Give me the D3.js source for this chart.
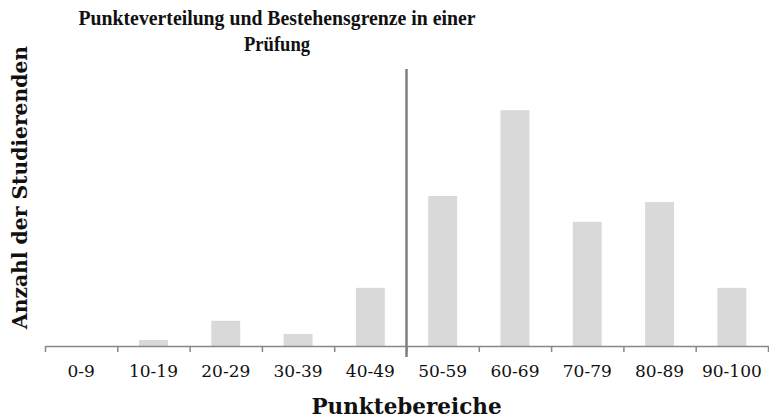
<!DOCTYPE html>
<html>
<head>
<meta charset="utf-8">
<script src="https://cdn.jsdelivr.net/npm/d3@7/dist/d3.min.js"></script>
<style>
  html, body { margin: 0; padding: 0; background: #fff; }
  svg { display: block; }
</style>
</head>
<body>
<svg id="chart" width="769" height="419"></svg>
<script>
const categories = ["0-9", "10-19", "20-29", "30-39", "40-49", "50-59", "60-69", "70-79", "80-89", "90-100"];
const counts = [0, 1, 4.2, 2, 9.7, 25, 39.3, 20.7, 24, 9.7];
const passBoundary = 5; // boundary index between 40-49 and 50-59
const titleLines = ["Punkteverteilung und Bestehensgrenze in einer", "Prüfung"];
const xTitle = "Punktebereiche";
const yTitle = "Anzahl der Studierenden";

(function () {
const svg = d3.select("#chart");
const mLeft = 45, mRight = 768, mBottom = 346, mTop = 106;

const x = d3.scaleBand().domain(categories).range([mLeft, mRight]).paddingInner(0).paddingOuter(0);
const xb = d3.scaleLinear().domain([0, categories.length]).range([mLeft, mRight]);
const y = d3.scaleLinear().domain([0, 40]).range([mBottom, mTop]);

const barW = x.bandwidth() * 0.4;

// bars
svg.append("g").selectAll("rect")
  .data(categories.map((c, i) => ({c, v: counts[i]})))
  .join("rect")
  .attr("x", d => x(d.c) + (x.bandwidth() - barW) / 2)
  .attr("width", barW)
  .attr("y", d => y(d.v))
  .attr("height", d => y(0) - y(d.v))
  .attr("fill", "#d9d9d9");

// axis with ticks between categories
const gAxis = svg.append("g").attr("transform", `translate(0,${mBottom})`)
  .call(d3.axisBottom(xb).ticks(categories.length).tickFormat("").tickSize(6).tickSizeOuter(0));
gAxis.select(".domain").attr("stroke", "#888").attr("stroke-width", 1.5);
gAxis.selectAll(".tick line").attr("stroke", "#888").attr("stroke-width", 1.5);

// category labels
const gLab = svg.append("g").attr("transform", `translate(0,${mBottom})`)
  .call(d3.axisBottom(x).tickSize(0).tickPadding(0));
gLab.select(".domain").remove();
gLab.selectAll(".tick text")
  .attr("y", 31).attr("dy", null)
  .attr("font-family", "'DejaVu Serif', serif")
  .attr("font-size", 17)
  .attr("fill", "#111");

// pass line
svg.append("line")
  .attr("x1", xb(passBoundary)).attr("x2", xb(passBoundary))
  .attr("y1", 69).attr("y2", 357)
  .attr("stroke", "#808080").attr("stroke-width", 2.5);

// title
const titleWidths = [397, 66];
titleLines.forEach((t, i) => {
  svg.append("text")
    .attr("x", 277).attr("y", 25 + i * 25.5)
    .attr("font-family", "'Liberation Serif', serif")
    .attr("font-weight", "bold")
    .attr("font-size", 22)
    .attr("text-anchor", "middle")
    .attr("fill", "#111")
    .attr("textLength", titleWidths[i])
    .attr("lengthAdjust", "spacingAndGlyphs")
    .text(t);
});

// x title
svg.append("text")
  .attr("x", 406.5).attr("y", 414)
  .attr("text-anchor", "middle")
  .attr("font-family", "'DejaVu Serif', serif")
  .attr("font-weight", "bold")
  .attr("font-size", 21.5)
  .attr("fill", "#111")
  .text(xTitle);

// y title
svg.append("text")
  .attr("transform", "translate(27,187.5) rotate(-90)")
  .attr("text-anchor", "middle")
  .attr("font-family", "'DejaVu Serif', serif")
  .attr("font-weight", "bold")
  .attr("font-size", 20.3)
  .attr("fill", "#111")
  .text(yTitle);
})();
</script>
</body>
</html>
